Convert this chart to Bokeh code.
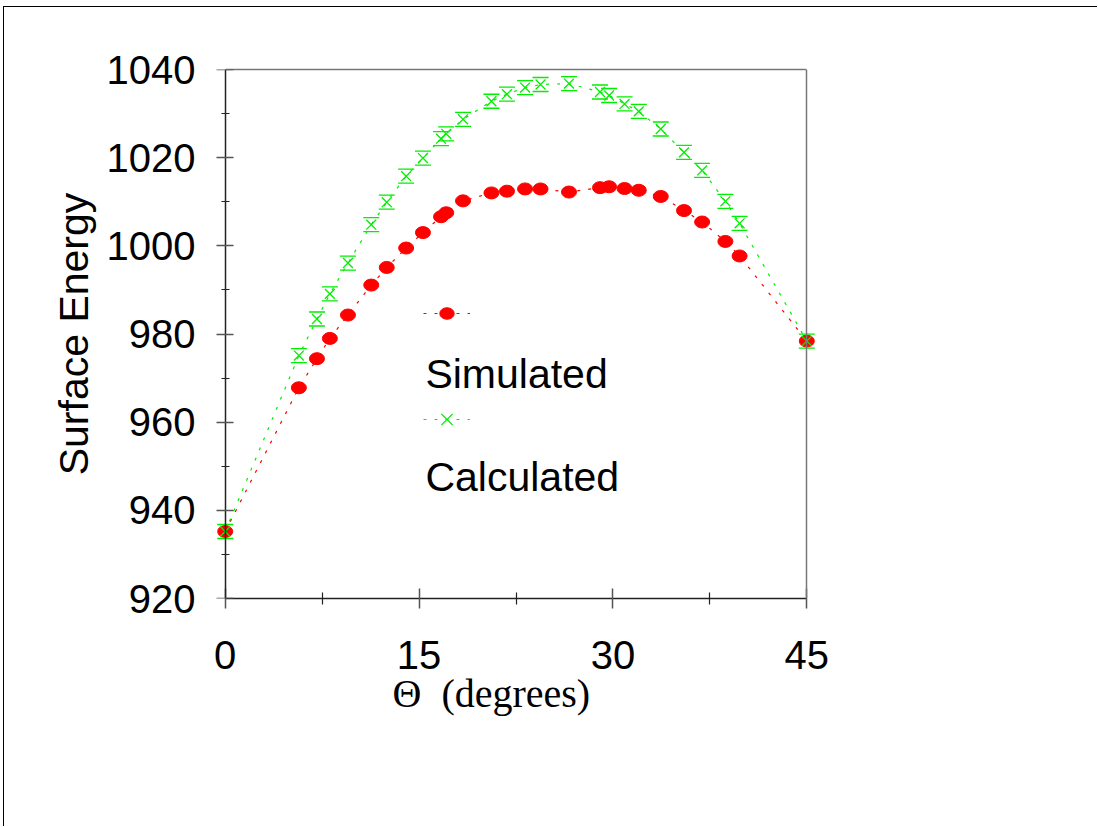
from bokeh.plotting import figure
from bokeh.models import (Range1d, FixedTicker, Legend, LegendItem, Label,
                          ColumnDataSource, LinearAxis, Title,
                          CustomLabelingPolicy)
from bokeh.embed import file_html
from bokeh.resources import INLINE

# ---------------- data ----------------
theta = [0, 5.7, 7.1, 8.1, 9.5, 11.3, 12.5, 14.0, 15.3, 16.7, 17.1, 18.4,
         20.6, 21.8, 23.2, 24.4, 26.6, 29.0, 29.7, 30.9, 32.0, 33.7, 35.5,
         36.9, 38.7, 39.8, 45]
simulated = [935.2, 967.8, 974.4, 979.0, 984.3, 991.1, 995.1, 999.5, 1003.0,
             1006.6, 1007.5, 1010.2, 1012.0, 1012.4, 1012.9, 1012.9, 1012.2,
             1013.2, 1013.4, 1013.0, 1012.6, 1011.2, 1008.0, 1005.4, 1001.0,
             997.7, 978.4]
calculated = [935.2, 975.1, 983.4, 989.1, 996.1, 1004.8, 1009.9, 1015.8,
              1019.9, 1024.3, 1025.4, 1028.7, 1032.8, 1034.4, 1035.9, 1036.6,
              1036.8, 1034.9, 1034.1, 1032.2, 1030.5, 1026.5, 1021.2, 1017.1,
              1010.1, 1005.1, 978.4]
x_ticks = [0, 15, 30, 45]
x_minor = [7.5, 22.5, 37.5]
y_ticks = [920, 940, 960, 980, 1000, 1020, 1040]
y_minor = [930, 950, 970, 990, 1010, 1030]

series_names = ["Simulated", "Calculated"]
x_title = "\u0398\u2002(degrees)"
y_title = "Surface Energy"

RED = "#ff0000"
GREEN = "#00ee00"
FRAME = "#777777"

W, H = 1094, 820
p = figure(width=W, height=H, x_range=Range1d(-0.75, 45.75),
           y_range=Range1d(920, 1040),
           output_backend="svg", toolbar_location=None,
           min_border_left=211, min_border_right=282,
           min_border_top=62, min_border_bottom=H - 591)
p.margin = (6, 0, 0, 3)
p.styles = {"border-left": "1px solid #000", "border-top": "1px solid #000"}
p.background_fill_color = "white"
p.border_fill_color = "white"
p.outline_line_color = None
p.grid.visible = False

xax = p.xaxis[0]
yax = p.yaxis[0]
xax.ticker = FixedTicker(ticks=x_ticks, minor_ticks=x_minor)
yax.ticker = FixedTicker(ticks=y_ticks, minor_ticks=y_minor)
xax.bounds = (0, 45)

for ax in (xax, yax):
    ax.major_label_text_font = "Liberation Sans"
    ax.major_label_text_font_size = "40px"
    ax.major_label_text_color = "black"

xax.axis_line_color = "#222222"
xax.axis_line_width = 1.5
xax.major_tick_line_color = "#555555"
xax.major_tick_line_width = 1.5
xax.minor_tick_line_color = "#222222"
xax.minor_tick_line_width = 1.2
xax.major_tick_in = 10
xax.major_tick_out = 10
xax.minor_tick_in = 6
xax.minor_tick_out = 6
xax.major_label_standoff = 32

# labelled left axis (labels + title only)
yax.axis_line_color = None
yax.major_tick_line_color = None
yax.minor_tick_line_color = None
yax.major_tick_in = 0
yax.major_tick_out = 0
yax.minor_tick_in = 0
yax.minor_tick_out = 0
yax.major_label_standoff = 20
yax.axis_label = y_title
yax.axis_label_text_font = "Liberation Sans"
yax.axis_label_text_font_size = "41px"
yax.axis_label_text_font_style = "normal"
yax.axis_label_text_color = "black"
yax.axis_label_standoff = 7

no_labels = CustomLabelingPolicy(code="for (const i of indices) indices.unset(i)")

# axis line and ticks drawn at theta = 0
y_line_ax = LinearAxis(fixed_location=0,
                       ticker=FixedTicker(ticks=y_ticks, minor_ticks=y_minor),
                       axis_line_color="#222222", axis_line_width=1.5,
                       major_tick_line_color="#555555", major_tick_line_width=1.5,
                       minor_tick_line_color="#222222", minor_tick_line_width=1.2,
                       major_tick_in=8, major_tick_out=9,
                       minor_tick_in=4, minor_tick_out=4,
                       major_label_policy=no_labels)
p.add_layout(y_line_ax, "left")

# frame edges on top and right (the plot box)
top_ax = LinearAxis(bounds=(0, 45), ticker=FixedTicker(ticks=[]),
                    axis_line_color=FRAME, axis_line_width=1.5,
                    major_tick_line_color=None, minor_tick_line_color=None)
right_ax = LinearAxis(fixed_location=45, ticker=FixedTicker(ticks=[]),
                      axis_line_color=FRAME, axis_line_width=1.5,
                      major_tick_line_color=None, minor_tick_line_color=None)
p.add_layout(top_ax, "above")
p.add_layout(right_ax, "right")

p.add_layout(Title(text=x_title, align="left", offset=177,
                   text_font="Liberation Serif", text_font_size="40px",
                   text_font_style="normal", text_color="black",
                   standoff=-6), "below")

src = ColumnDataSource(dict(theta=theta, sim=simulated, calc=calculated))

sim_line = p.line("theta", "sim", source=src, line_color=RED, line_dash="3 8",
                  line_width=1.2)
calc_line = p.line("theta", "calc", source=src, line_color=GREEN, line_dash="3 8",
                   line_width=1.2)
sim_pts = p.ellipse("theta", "sim", source=src, width=15, height=12,
                    width_units="screen", height_units="screen",
                    fill_color=RED, line_color=RED)
calc_bars = p.rect("theta", "calc", source=src, width=16, height=14,
                   width_units="screen", height_units="screen",
                   fill_color=None, line_color=GREEN, line_width=1.3,
                   line_dash="16 14")
calc_pts = p.scatter("theta", "calc", source=src, marker="x", size=14,
                     line_color=GREEN, line_width=1.3)

common = dict(glyph_width=47, label_height=10, label_text_font_size="8px",
              padding=0, margin=0, spacing=0, border_line_alpha=0,
              background_fill_alpha=0, label_standoff=0)
leg1 = Legend(items=[LegendItem(label="\u00a0", renderers=[sim_line, sim_pts])],
              location=(208, 276), glyph_height=18, **common)
leg2 = Legend(items=[LegendItem(label="\u00a0", renderers=[calc_line, calc_pts])],
              location=(208, 159), glyph_height=40, **common)
p.add_layout(leg1)
p.add_layout(leg2)

p.add_layout(Label(x=15.49, y=971.0, text=series_names[0], text_font="Liberation Sans",
                   text_font_size="41px", text_baseline="alphabetic",
                   text_color="black"))
p.add_layout(Label(x=15.49, y=947.5, text=series_names[1], text_font="Liberation Sans",
                   text_font_size="41px", text_baseline="alphabetic",
                   text_color="black"))

open("out.html", "w").write(file_html(p, INLINE))
